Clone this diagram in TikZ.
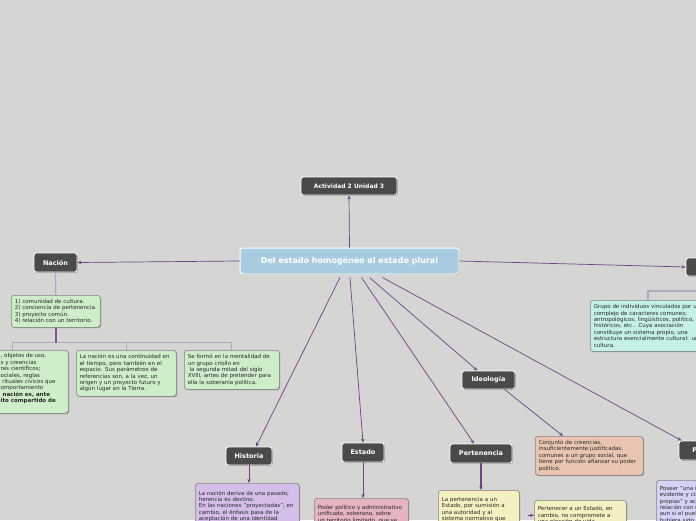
\documentclass[tikz,border=0pt]{standalone}
\usepackage{fontspec}
\setmainfont{DejaVu Sans}
\usetikzlibrary{arrows.meta,shadows}
\definecolor{bg}{RGB}{213,214,212}
\definecolor{darkbox}{RGB}{74,74,72}
\definecolor{rootfill}{RGB}{169,205,224}
\definecolor{linecol}{RGB}{108,66,138}
\definecolor{treelight}{RGB}{178,166,194}
\definecolor{treedark}{RGB}{122,92,148}
\definecolor{boxline}{RGB}{130,130,130}
\definecolor{txt}{RGB}{40,40,40}
\definecolor{greenf}{RGB}{206,237,201}
\definecolor{tealf}{RGB}{197,240,232}
\definecolor{peachf}{RGB}{233,197,177}
\definecolor{lavf}{RGB}{214,190,234}
\definecolor{pinkf}{RGB}{230,180,190}
\definecolor{yellowf}{RGB}{244,240,192}
\definecolor{bluef}{RGB}{211,211,245}
\begin{document}
\begin{tikzpicture}[x=1pt,y=-1pt,
  shad/.style={drop shadow={shadow xshift=0.8pt,shadow yshift=-0.8pt,opacity=0.35,fill=black}},
  darknode/.style={shad,draw=white,line width=0.8pt,fill=darkbox,rounded corners=2.5pt,text=white,
    font=\bfseries\fontsize{6.5}{7}\selectfont,inner sep=0pt},
  rootnode/.style={shad,draw=white,line width=1pt,fill=rootfill,rounded corners=3pt,text=white,
    font=\bfseries\fontsize{8}{9}\selectfont,inner sep=0pt},
  textbox/.style={shad,draw=boxline,line width=0.6pt,rounded corners=3pt,align=left,text=txt,
    font=\fontsize{5.5}{6.4}\selectfont,inner sep=3.5pt,anchor=north west},
  conn/.style={draw=linecol,line width=0.7pt,-{Stealth[length=4pt,width=3.4pt]}},
  tlight/.style={draw=treelight,line width=1.2pt},
  tdark/.style={draw=treedark,line width=1.4pt},
]
\useasboundingbox (0,0) rectangle (696,520);
\clip (0,0) rectangle (696,520);
\fill[bg] (0,0) rectangle (696,520);

% main nodes
\node[rootnode,minimum width=219pt,minimum height=26pt] (root) at (349.5,261) {Del estado homogéneo al estado plural};
\node[darknode,minimum width=96pt,minimum height=18pt,font=\bfseries\fontsize{6}{7}\selectfont] (act) at (349,186) {Actividad 2 Unidad 3};
\node[darknode,minimum width=43pt,minimum height=19pt] (nacion) at (55.5,262.5) {Nación};
\node[darknode,minimum width=50pt,minimum height=18pt] (etnia) at (711,267) {Etnia};
\node[darknode,minimum width=53pt,minimum height=18pt] (ideo) at (488.5,380) {Ideología};
\node[darknode,minimum width=46pt,minimum height=18pt] (hist) at (249,456) {Historia};
\node[darknode,minimum width=42pt,minimum height=19pt] (estado) at (363,452.5) {Estado};
\node[darknode,minimum width=62pt,minimum height=19pt] (pert) at (481,453.5) {Pertenencia};
\node[darknode,minimum width=52pt,minimum height=19pt] (pueblo) at (705,450.5) {Pueblo};

% text boxes
\node[textbox,fill=greenf,text width=82pt,minimum height=32pt] (n1) at (11,295)
 {1) comunidad de cultura.\\2) conciencia de pertenencia.\\3) proyecto común.\\4) relación con un territorio.};
\node[textbox,fill=greenf,minimum width=112pt,minimum height=63pt] (n2) at (-44,350) {};
\node[anchor=north west,inner sep=0pt,align=left,text=txt,font=\fontsize{5.5}{6.4}\selectfont] (n2t) at (0.5,353.5)
 {, objetos de uso,\\s y creencias\\res científicos;\\ociales, reglas\\\ rituales cívicos que\\omportamiento\\\textbf{\ nación es, ante}\\\textbf{ito compartido de}};
\node[textbox,fill=greenf,text width=93pt,minimum height=46pt] (n3) at (76,350)
 {La nación es una continuidad en\\el tiempo, pero también en el\\espacio. Sus parámetros de\\referencias son, a la vez, un\\origen y un proyecto futuro y\\algún lugar en la Tierra.};
\node[textbox,fill=greenf,text width=88pt,minimum height=39pt] (n4) at (184,350)
 {Se formó en la mentalidad de\\un grupo criollo en\\\ la segunda mitad del siglo\\XVIII, antes de pretender para\\ella la soberanía política.};
\node[textbox,fill=tealf,text width=150pt,minimum height=51pt] (e1) at (590,300)
 {Grupo de individuos vinculados por un\\complejo de caracteres comunes;\\antropológicos, lingüísticos, político,\\históricos, etc.. Cuya asociación\\constituye un sistema propio, una\\estructura esencialmente cultural: una\\cultura.};
\node[textbox,fill=peachf,text width=101pt,minimum height=39pt] (i1) at (535,436)
 {Conjunto de creencias,\\insuficientemente justificadas,\\comunes a un grupo social, que\\tiene por función afianzar su poder\\político.};
\node[textbox,fill=lavf,text width=97pt,minimum height=46pt] (h1) at (195,483)
 {La nación deriva de una pasado;\\herencia es destino.\\En las naciones "proyectadas", en\\cambio, el énfasis pasa de la\\aceptación de una identidad};
\node[textbox,fill=pinkf,text width=87pt,minimum height=32pt] (s1) at (314,498)
 {Poder político y administrativo\\unificado, soberano, sobre\\un territorio limitado, que se};
\node[textbox,fill=yellowf,text width=74pt,minimum height=38pt] (p1) at (438,490)
 {La pertenencia a un\\Estado, por sumisión a\\una autoridad y al\\sistema normativo que};
\node[textbox,fill=yellowf,text width=85pt,minimum height=30pt] (p2) at (534,500)
 {Pertenecer a un Estado, en\\cambio, no compromete a\\una elección de vida};
\node[textbox,fill=bluef,text width=100pt,minimum height=48pt] (u1) at (656,480)
 {Poseer "una identidad"\\evidente y clara\\propias" y acepta\\relación con el\\aun si el pueblo\\hubiera sido};

% tree lines
\draw[tlight] (nacion.south) -- (n1.north);
\draw[tdark] (n1.south) -- ++(0,15) coordinate (bar);
\draw[tlight] (n2.north) -- (n2.north |- bar) -- (n4.north |- bar) -- (n4.north);
\draw[tlight] (n3.north |- bar) -- (n3.north);
\draw[tdark] (n1.south) -- (bar);
\draw[tlight] ([xshift=58pt]e1.north west) -- ++(0,-9) coordinate (ebar) -- (ebar -| etnia.south) -- (etnia.south);

% connectors
\draw[conn] (root.north) -- (act.south);
\draw[conn] (root.west) -- (nacion.east);
\draw[conn] (root.east) -- (etnia.west);
\draw[conn] ([xshift=-9.5pt,yshift=-3pt]root.south) -- ([xshift=7pt]hist.north);
\draw[conn] ([xshift=0.5pt,yshift=-3pt]root.south) -- (estado.north);
\draw[conn] ([xshift=12pt,yshift=-3pt]root.south) -- ([xshift=-7pt]pert.north);
\draw[conn] ([xshift=20pt,yshift=-3pt]root.south) -- ([xshift=-11pt]ideo.north);
\draw[conn] ([xshift=33pt,yshift=-3pt]root.south) -- ([xshift=3pt]pueblo.north west);
\draw[conn] ([xshift=16pt]ideo.south) -- ([xshift=28pt]i1.north west);
\draw[conn] (hist.south) -- (hist.south |- h1.north);
\draw[conn] (estado.south) -- (estado.south |- s1.north);
\draw[conn,line width=1.3pt] (pert.south) -- (pert.south |- p1.north);
\draw[conn,line width=1.3pt,shorten <=8pt] (p1.east |- p2.west) -- (p2.west);
\end{tikzpicture}
\end{document}
